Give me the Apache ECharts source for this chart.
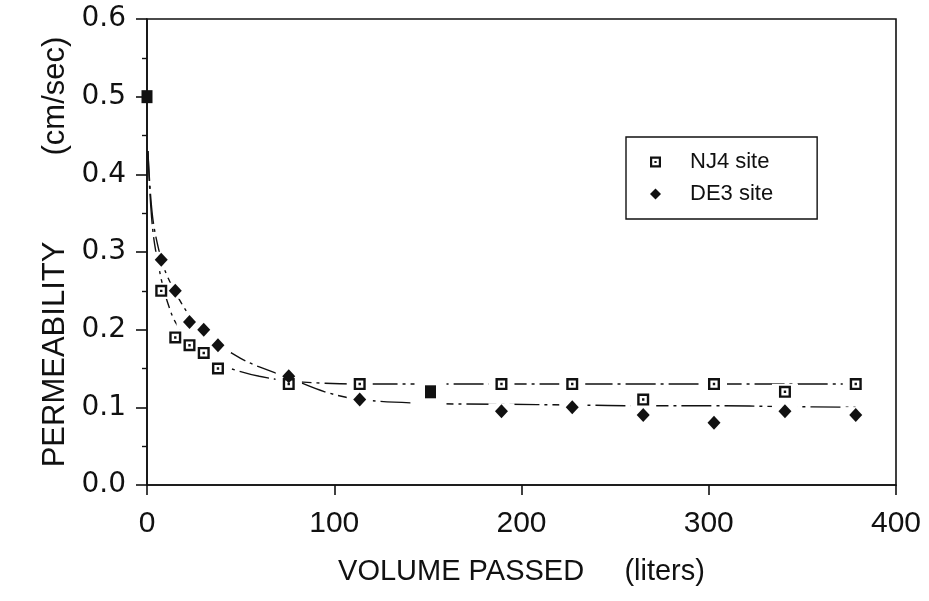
<!DOCTYPE html>
<html>
<head>
<meta charset="utf-8">
<title>Permeability vs volume passed</title>
<script src="https://cdn.jsdelivr.net/npm/echarts@6/dist/echarts.min.js"></script>
<style>
  html, body { margin: 0; padding: 0; background: #fff; }
  #chart { width: 929px; height: 601px; }
</style>
</head>
<body>
<div id="chart"></div>
<script>
// Sampling volumes (liters) for the measured points
const volumes = [7.6, 15.1, 22.7, 30.3, 37.9, 75.7, 113.6, 189.3, 227.1, 265.0, 302.8, 340.7, 378.5];
// Measured permeability (cm/sec)
const nj4Values = [0.25, 0.19, 0.18, 0.17, 0.15, 0.13, 0.13, 0.13, 0.13, 0.11, 0.13, 0.12, 0.13];
const de3Values = [0.29, 0.25, 0.21, 0.20, 0.18, 0.14, 0.11, 0.095, 0.10, 0.09, 0.08, 0.095, 0.09];
// Points where both sites read the same value
const sharedVolumes = [0, 151.4];
const sharedValues = [0.5, 0.12];

// Fitted decay curves
const fitVolumes = [0.5, 3, 7.6, 11, 15.1, 22.7, 30.3, 37.9, 50, 60, 75.7, 95, 113.6, 151.4, 189.3, 227.1, 265.0, 302.8, 340.7, 378.5];
const nj4Fit = [0.43, 0.33, 0.265, 0.235, 0.21, 0.183, 0.167, 0.156, 0.146, 0.14, 0.134, 0.131, 0.13, 0.13, 0.13, 0.13, 0.13, 0.13, 0.13, 0.13];
const de3Fit = [0.43, 0.345, 0.29, 0.268, 0.248, 0.218, 0.198, 0.182, 0.163, 0.152, 0.138, 0.12, 0.11, 0.105, 0.104, 0.103, 0.102, 0.102, 0.101, 0.10];

// Axis ticks
const xTicks = [0, 100, 200, 300, 400];
const yTicks = [0.0, 0.1, 0.2, 0.3, 0.4, 0.5, 0.6];

const pairs = (xs, ys) => xs.map((x, i) => [x, ys[i]]);

const FONT = 'Liberation Sans';
const INK = '#111111';
// open square with a small centre dot
const SQUARE_DOT = 'path://M0,0L10,0L10,10L0,10Z M2,2L2,8L8,8L8,2Z M4,4L6,4L6,6L4,6Z';

const chart = echarts.init(document.getElementById('chart'), null, { renderer: 'canvas' });

const fitLine = (name, data) => ({
  name: name,
  type: 'line',
  data: data,
  smooth: 0.35,
  showSymbol: false,
  symbol: 'none',
  silent: true,
  z: 2,
  lineStyle: { color: INK, width: 1.4, type: [30, 5, 3, 5] }
});

// white patch behind each marker so the curves break around it
const halo = (data, size) => ({
  type: 'scatter',
  data: data,
  symbol: 'rect',
  symbolSize: size,
  silent: true,
  z: 3,
  itemStyle: { color: '#ffffff', opacity: 1 }
});

chart.setOption({
  backgroundColor: '#ffffff',
  animation: false,
  grid: {
    left: 147, right: 33, top: 19, bottom: 116,
    show: true, borderColor: INK, borderWidth: 1.6
  },
  legend: {
    orient: 'vertical',
    left: 626, top: 137,
    data: ['NJ4 site', 'DE3 site'],
    borderColor: INK, borderWidth: 1.4, borderRadius: 0,
    padding: [14, 44, 14, 24],
    itemWidth: 11, itemHeight: 11, itemGap: 10,
    selectedMode: false,
    textStyle: { fontFamily: FONT, fontSize: 22, color: INK, padding: [0, 0, 0, 24] }
  },
  xAxis: {
    type: 'value', min: xTicks[0], max: xTicks[xTicks.length - 1], interval: 100,
    name: 'VOLUME PASSED     (liters)',
    nameLocation: 'middle', nameGap: 72,
    nameTextStyle: { fontFamily: FONT, fontSize: 29, color: INK },
    axisLine: { lineStyle: { color: INK, width: 1.6 } },
    axisTick: { length: 10, lineStyle: { color: INK, width: 1.6 } },
    axisLabel: { margin: 24, fontFamily: FONT, fontSize: 30, color: INK },
    splitLine: { show: false }
  },
  yAxis: {
    type: 'value', min: yTicks[0], max: yTicks[yTicks.length - 1], interval: 0.1,
    name: 'PERMEABILITY          (cm/sec)',
    nameLocation: 'middle', nameGap: 76, nameRotate: 90,
    nameTextStyle: { fontFamily: FONT, fontSize: 31, color: INK },
    axisLine: { lineStyle: { color: INK, width: 1.6 } },
    axisTick: { length: 11, lineStyle: { color: INK, width: 1.6 } },
    minorTick: { show: true, splitNumber: 2, length: 5, lineStyle: { color: INK, width: 1.4 } },
    axisLabel: { margin: 21, fontFamily: 'DejaVu Sans', fontSize: 28, color: INK,
      formatter: v => v.toFixed(1) },
    splitLine: { show: false }
  },
  series: [
    fitLine('NJ4 fit', pairs(fitVolumes, nj4Fit)),
    fitLine('DE3 fit', pairs(fitVolumes, de3Fit)),
    halo(pairs(volumes, nj4Values), [26, 16]),
    halo(pairs(volumes, de3Values), [26, 16]),
    halo(pairs(sharedVolumes, sharedValues), v => (v[0] > 0 ? [32, 30] : 0)),
    {
      name: 'DE3 site',
      type: 'scatter',
      data: pairs(volumes, de3Values),
      symbol: 'diamond',
      symbolSize: [13, 14],
      z: 4,
      itemStyle: { color: INK, opacity: 1 }
    },
    {
      name: 'NJ4 site',
      type: 'scatter',
      data: pairs(volumes, nj4Values),
      symbol: SQUARE_DOT,
      symbolSize: 12,
      z: 5,
      itemStyle: { color: INK, opacity: 1 }
    },
    {
      name: 'Both sites',
      type: 'scatter',
      data: pairs(sharedVolumes, sharedValues),
      symbol: 'rect',
      symbolSize: [11, 13],
      clip: false,
      z: 5,
      itemStyle: { color: INK, opacity: 1 }
    }
  ]
});
</script>
</body>
</html>
